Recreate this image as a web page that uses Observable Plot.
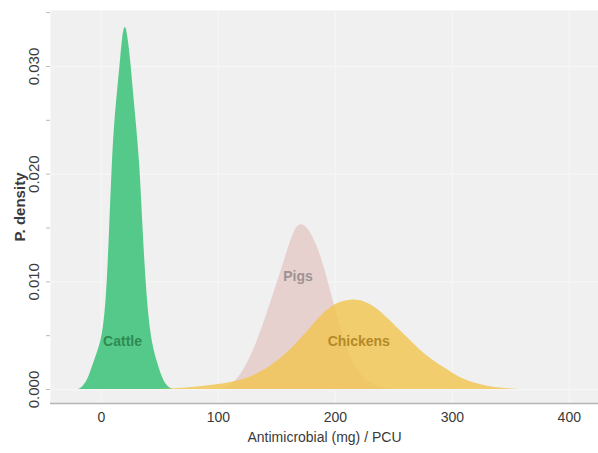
<!DOCTYPE html>
<html>
<head>
<meta charset="utf-8">
<script src="https://cdn.jsdelivr.net/npm/d3@7"></script>
<script src="https://cdn.jsdelivr.net/npm/@observablehq/plot@0.6"></script>
<style>
  html, body { margin: 0; padding: 0; background: #ffffff; }
  svg { font-family: "Liberation Sans", Arial, sans-serif; }
</style>
</head>
<body>
<div id="chart"></div>
<script>
// Cattle density curve
const cattleX = [-20, -16, -12, -8, -4, 0, 3, 5, 7, 9, 11, 14, 16, 18, 20.5, 23, 25.5, 27, 30, 33, 35, 38, 42, 48, 53, 57, 62];
const cattleD = [0, 0.0002, 0.0008, 0.0020, 0.0033, 0.0045, 0.0068, 0.0099, 0.0150, 0.0205, 0.0245, 0.0280, 0.0302, 0.0328, 0.0341, 0.0325, 0.0300, 0.0280, 0.0245, 0.0207, 0.0160, 0.0099, 0.0048, 0.0024, 0.0008, 0.0002, 0];
// Pigs density curve
const pigsX = [100, 110, 120, 130, 140, 150, 160, 165, 170, 177, 185, 192, 198, 205, 212, 220, 230, 240, 250];
const pigsD = [0, 0.0002, 0.0014, 0.0035, 0.0065, 0.0098, 0.0132, 0.0148, 0.0155, 0.0150, 0.0133, 0.0108, 0.0083, 0.0055, 0.0032, 0.0015, 0.0005, 0.0001, 0];
// Chickens density curve
const chickX = [50, 70, 90, 110, 125, 140, 150, 160, 170, 180, 190, 200, 214, 225, 235, 245, 258, 270, 282, 292, 303, 313, 325, 340, 358];
const chickD = [0, 0.0001, 0.0003, 0.0006, 0.0010, 0.0018, 0.0026, 0.0035, 0.0046, 0.0059, 0.0071, 0.0080, 0.0084, 0.0082, 0.0076, 0.0066, 0.0052, 0.0039, 0.0028, 0.0021, 0.0013, 0.0008, 0.0004, 0.0001, 0];

const labelNames = ["Cattle", "Pigs", "Chickens"];
const labelX = [18, 168, 220];
const labelY = [0.0045, 0.0105, 0.0045];
const labelColors = ["#2f8a52", "#9e9292", "#b48a26"];

const xTicks = [0, 100, 200, 300, 400];
const yTicks = [0, 0.005, 0.010, 0.015, 0.020, 0.025, 0.030, 0.035];
const xDomain = [-43.6, 425];
const yDomain = [-0.0013, 0.0352];

const toRows = (xs, ds) => xs.map((x, i) => ({x, d: ds[i]}));
const cattle = toRows(cattleX, cattleD);
const pigs = toRows(pigsX, pigsD);
const chickens = toRows(chickX, chickD);
const labels = labelNames.map((n, i) => ({name: n, x: labelX[i], y: labelY[i], color: labelColors[i]}));

const chart = Plot.plot({
  width: 598,
  height: 453,
  marginLeft: 50,
  marginRight: 0,
  marginTop: 10,
  marginBottom: 50,
  style: {background: "#ffffff", fontFamily: "Liberation Sans, Arial, sans-serif"},
  x: {domain: xDomain},
  y: {domain: yDomain},
  marks: [
    Plot.frame({fill: "#f0f0f0", stroke: "none"}),
    Plot.gridX(xTicks, {stroke: "#f5f5f5", strokeOpacity: 1, strokeWidth: 1.5}),
    Plot.gridY(yTicks.filter((t, i) => i % 2 === 0), {stroke: "#f5f5f5", strokeOpacity: 1, strokeWidth: 1.5}),
    Plot.ruleY([yDomain[0]], {stroke: "#b5b5b5", strokeWidth: 1.5}),
    Plot.areaY(cattle, {x: "x", y: "d", fill: "#55c98a", curve: "basis"}),
    Plot.areaY(pigs, {x: "x", y: "d", fill: "#e6d1cf", curve: "basis"}),
    Plot.areaY(chickens, {x: "x", y: "d", fill: "#f0c450", fillOpacity: 0.82, curve: "basis"}),
    Plot.text(labels, {x: "x", y: "y", text: "name", fill: "color", fontSize: 14, fontWeight: "bold"}),
    Plot.axisX(xTicks, {
      tickSize: 0, tickPadding: 9, fontSize: 14, color: "#3a3a3a",
      label: "Antimicrobial (mg) / PCU", labelAnchor: "center", labelOffset: 38, labelArrow: "none"
    }),
    Plot.axisY(yTicks, {
      tickSize: 4, tickPadding: 8, fontSize: 15, color: "#3a3a3a", stroke: "#bbb",
      tickRotate: -90,
      tickFormat: (d, i) => (i % 2 === 0 ? d3.format(".3f")(d) : ""),
      label: "P. density", labelAnchor: "center", labelOffset: 36, labelArrow: "none"
    })
  ]
});
document.getElementById("chart").appendChild(chart);
// Make the y-axis title bold and slightly larger, as in the reference
chart.querySelectorAll("g[aria-label='y-axis label'] text").forEach(t => {
  t.setAttribute("font-weight", "bold");
  t.setAttribute("font-size", 15);
});
</script>
</body>
</html>
